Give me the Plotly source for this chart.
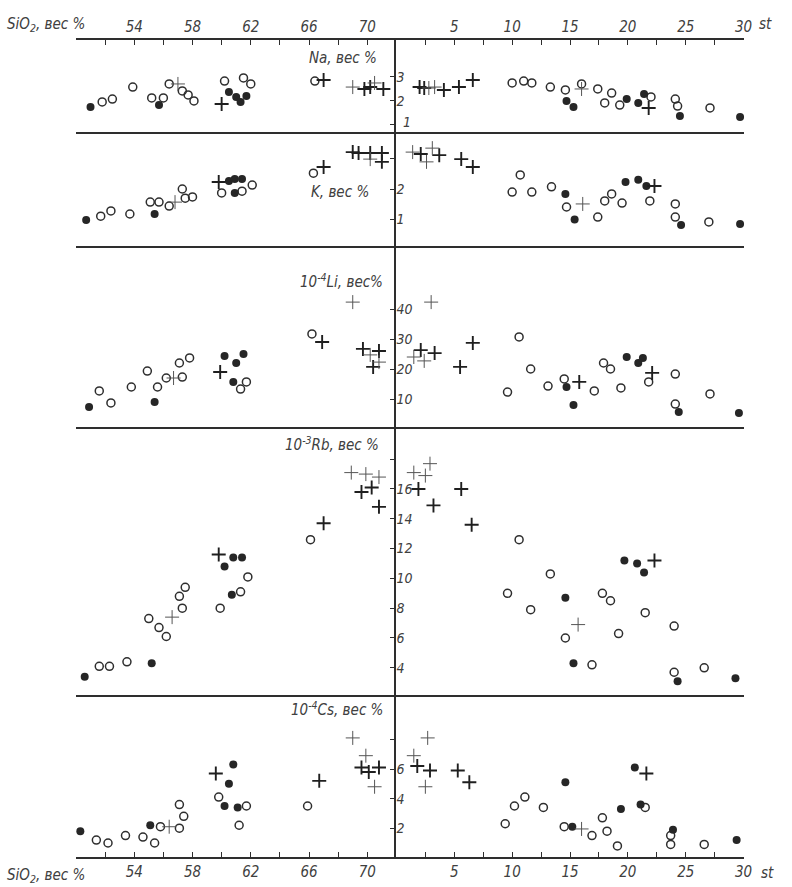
import plotly.graph_objects as go

# ---------------- data: (x, value) pairs ----------------
# left half: x = SiO2, wt%;  right half: x = st
NA_L_FILLED = [(49.7, 1.71), (51.0, 1.75), (55.7, 1.83), (60.5, 2.375), (61.0, 2.17), (61.3, 1.96), (61.7, 2.21)]
NA_L_OPEN = [(51.8, 1.96), (52.5, 2.08), (53.9, 2.58), (55.2, 2.125), (56.0, 2.125), (56.4, 2.71), (57.3, 2.42),
             (57.7, 2.25), (58.1, 2.0), (60.2, 2.83), (61.5, 2.96), (62.0, 2.71), (66.4, 2.83)]
NA_L_CROSS_BOLD = [(60.0, 1.875), (67.0, 2.875), (69.8, 2.5), (70.2, 2.58), (71.1, 2.5)]
NA_L_CROSS_THIN = [(57.0, 2.71), (69.0, 2.58), (70.5, 2.75)]

NA_R_FILLED = [(14.7, 2.0), (15.3, 1.75), (19.9, 2.08), (20.9, 1.92), (21.4, 2.29), (24.5, 1.375), (29.7, 1.33)]
NA_R_OPEN = [(10.0, 2.75), (11.0, 2.83), (11.7, 2.75), (13.3, 2.58), (14.6, 2.46), (16.0, 2.71), (17.4, 2.5),
             (18.6, 2.33), (18.0, 1.92), (19.3, 1.83), (22.0, 2.17), (24.1, 2.08), (24.3, 1.79), (27.1, 1.71)]
NA_R_CROSS_BOLD = [(2.0, 2.58), (2.4, 2.54), (4.1, 2.46), (5.4, 2.58), (6.6, 2.875), (21.8, 1.71)]
NA_R_CROSS_THIN = [(2.8, 2.54), (3.3, 2.58), (16.0, 2.5)]

K_L_FILLED = [(49.7, 1.0), (50.7, 0.98), (55.4, 1.18), (60.5, 2.26), (60.9, 2.33), (61.4, 2.33), (60.9, 1.87)]
K_L_OPEN = [(51.7, 1.11), (52.4, 1.28), (53.7, 1.18), (55.1, 1.57), (55.7, 1.57), (56.4, 1.44), (57.3, 2.0),
            (57.5, 1.7), (58.0, 1.74), (60.0, 1.87), (61.4, 1.93), (62.1, 2.13), (66.3, 2.52)]
K_L_CROSS_BOLD = [(59.8, 2.23), (67.0, 2.72), (69.0, 3.21), (69.4, 3.18), (70.2, 3.18), (71.0, 3.18), (71.0, 2.89)]
K_L_CROSS_THIN = [(56.8, 1.57), (70.2, 2.98)]

K_R_FILLED = [(14.6, 1.84), (15.4, 1.0), (19.8, 2.23), (20.9, 2.3), (21.6, 2.1), (24.6, 0.82), (29.7, 0.85)]
K_R_OPEN = [(10.0, 1.9), (10.7, 2.46), (11.7, 1.9), (13.4, 2.07), (14.7, 1.41), (17.4, 1.08), (18.0, 1.61),
            (18.6, 1.84), (19.5, 1.54), (21.9, 1.61), (24.1, 1.51), (24.1, 1.08), (27.0, 0.92)]
K_R_CROSS_BOLD = [(2.1, 3.15), (3.7, 3.11), (5.6, 2.98), (6.6, 2.72), (22.3, 2.1)]
K_R_CROSS_THIN = [(1.4, 3.21), (2.6, 2.89), (3.1, 3.34), (16.1, 1.51)]

LI_L_FILLED = [(49.5, 6.7), (50.9, 7.3), (55.4, 9.0), (60.2, 24.3), (61.0, 22.0), (61.5, 25.0), (60.8, 15.7)]
LI_L_OPEN = [(51.6, 12.7), (52.4, 8.7), (53.8, 14.0), (54.9, 19.3), (55.6, 14.0), (56.2, 17.0), (57.3, 17.3),
             (57.1, 22.0), (57.8, 23.7), (61.7, 15.7), (61.3, 13.3), (66.2, 31.7)]
LI_L_CROSS_BOLD = [(59.9, 19.0), (66.9, 29.0), (69.7, 26.7), (70.8, 26.0), (70.4, 20.7)]
LI_L_CROSS_THIN = [(56.7, 17.0), (69.0, 42.3), (70.2, 24.7), (70.8, 22.3)]

LI_R_FILLED = [(14.7, 14.0), (15.3, 8.0), (19.9, 24.0), (20.9, 22.0), (21.3, 23.7), (24.4, 5.7), (29.6, 5.3)]
LI_R_OPEN = [(9.6, 12.3), (10.6, 30.7), (11.6, 20.0), (13.1, 14.3), (14.5, 16.7), (17.1, 12.7), (17.9, 22.0),
             (18.5, 20.0), (19.4, 13.7), (21.8, 15.7), (24.1, 18.3), (24.1, 8.3), (27.1, 11.7)]
LI_R_CROSS_BOLD = [(2.1, 26.3), (3.3, 25.3), (5.5, 20.7), (6.6, 28.7), (15.8, 15.7), (22.1, 18.7)]
LI_R_CROSS_THIN = [(3.0, 42.3), (1.5, 24.0), (2.4, 22.7)]

RB_L_FILLED = [(60.2, 10.8), (60.8, 11.4), (61.4, 11.4), (60.7, 8.9), (55.2, 4.3), (49.4, 3.6), (50.6, 3.4)]
RB_L_OPEN = [(66.1, 12.6), (61.8, 10.1), (61.3, 9.1), (59.9, 8.0), (57.5, 9.4), (57.1, 8.8), (57.3, 8.0),
             (55.0, 7.3), (55.7, 6.7), (56.2, 6.1), (53.5, 4.4), (51.6, 4.1), (52.3, 4.1)]
RB_L_CROSS_BOLD = [(69.6, 15.8), (70.3, 16.1), (70.8, 14.8), (67.0, 13.7), (59.8, 11.6)]
RB_L_CROSS_THIN = [(68.9, 17.1), (69.9, 17.0), (70.8, 16.8), (56.6, 7.4)]

RB_R_FILLED = [(14.6, 8.7), (19.7, 11.2), (20.8, 11.0), (21.4, 10.4), (15.3, 4.3), (24.3, 3.1), (29.3, 3.3)]
RB_R_OPEN = [(10.6, 12.6), (13.3, 10.3), (9.6, 9.0), (11.6, 7.9), (17.8, 9.0), (18.5, 8.5), (21.5, 7.7),
             (14.6, 6.0), (19.2, 6.3), (24.0, 6.8), (16.9, 4.2), (24.0, 3.7), (26.6, 4.0)]
RB_R_CROSS_BOLD = [(1.9, 16.0), (3.2, 14.9), (5.6, 16.0), (6.5, 13.6), (22.3, 11.2)]
RB_R_CROSS_THIN = [(2.9, 17.7), (1.5, 17.1), (2.5, 16.9), (15.7, 6.9)]

CS_L_FILLED = [(60.8, 6.3), (60.5, 5.0), (60.2, 3.5), (61.1, 3.4), (55.1, 2.2), (50.3, 1.8), (49.2, 1.3)]
CS_L_OPEN = [(59.8, 4.1), (57.1, 3.6), (61.7, 3.5), (65.9, 3.5), (57.4, 2.8), (61.2, 2.2), (55.8, 2.1),
             (57.1, 2.0), (53.4, 1.5), (54.6, 1.4), (55.4, 1.0), (51.4, 1.2), (52.2, 1.0)]
CS_L_CROSS_BOLD = [(69.6, 6.1), (70.1, 5.8), (70.8, 6.1), (66.7, 5.2), (59.6, 5.7)]
CS_L_CROSS_THIN = [(69.0, 8.1), (69.9, 6.9), (70.5, 4.8), (56.4, 2.1)]

CS_R_FILLED = [(14.6, 5.1), (20.6, 6.1), (19.4, 3.3), (21.1, 3.6), (15.2, 2.1), (23.9, 1.9), (29.4, 1.2)]
CS_R_OPEN = [(11.1, 4.1), (10.2, 3.5), (12.7, 3.4), (21.5, 3.4), (9.4, 2.3), (14.5, 2.1), (16.9, 1.5),
             (17.8, 2.7), (18.2, 1.8), (19.1, 0.8), (23.7, 1.5), (23.7, 0.9), (26.6, 0.9)]
CS_R_CROSS_BOLD = [(1.8, 6.2), (2.9, 5.9), (5.3, 5.9), (6.3, 5.1), (21.6, 5.7)]
CS_R_CROSS_THIN = [(2.7, 8.1), (1.5, 6.9), (2.5, 4.8), (16.0, 1.95)]

# panel titles and y-axis ticks
PANEL_TITLES = ["Na, вес %", "K, вес %", "10<sup>-4</sup>Li, вес%", "10<sup>-3</sup>Rb, вес %",
                "10<sup>-4</sup>Cs, вес %"]
Y_TICKVALS = [[1, 2, 3], [1, 2, 3], [10, 20, 30, 40], [4, 6, 8, 10, 12, 14, 16, 18], [2, 4, 6, 8]]
Y_TICKTEXT = [[" ", "2", "3"], ["1", "2", " "], ["10", "20", "30", "40"],
              ["4", "6", "8", "10", "12", "14", "16", " "], ["2", "4", "6", " "]]
# the Na "1" label sits on the panel's bottom edge, so it is placed as a note beside its tick
NA_LOW_LABEL = "1"
SIO2_TICKVALS = [50, 52, 54, 56, 58, 60, 62, 64, 66, 68, 70, 72]
SIO2_TICKTEXT = [" ", " ", "54", " ", "58", " ", "62", " ", "66", " ", "70", " "]
ST_TICKVALS = [0, 2.5, 5, 7.5, 10, 12.5, 15, 17.5, 20, 22.5, 25, 27.5, 30]
ST_TICKTEXT = [" ", " ", "5", " ", "10", " ", "15", " ", "20", " ", "25", " ", "30"]

PANELS = [
    (NA_L_OPEN, NA_L_FILLED, NA_L_CROSS_BOLD, NA_L_CROSS_THIN, NA_R_OPEN, NA_R_FILLED, NA_R_CROSS_BOLD, NA_R_CROSS_THIN),
    (K_L_OPEN, K_L_FILLED, K_L_CROSS_BOLD, K_L_CROSS_THIN, K_R_OPEN, K_R_FILLED, K_R_CROSS_BOLD, K_R_CROSS_THIN),
    (LI_L_OPEN, LI_L_FILLED, LI_L_CROSS_BOLD, LI_L_CROSS_THIN, LI_R_OPEN, LI_R_FILLED, LI_R_CROSS_BOLD, LI_R_CROSS_THIN),
    (RB_L_OPEN, RB_L_FILLED, RB_L_CROSS_BOLD, RB_L_CROSS_THIN, RB_R_OPEN, RB_R_FILLED, RB_R_CROSS_BOLD, RB_R_CROSS_THIN),
    (CS_L_OPEN, CS_L_FILLED, CS_L_CROSS_BOLD, CS_L_CROSS_THIN, CS_R_OPEN, CS_R_FILLED, CS_R_CROSS_BOLD, CS_R_CROSS_THIN),
]

# ---------------- layout geometry ----------------
W, H = 792, 887
ROW_PX = [(40, 132), (132, 246), (246, 427), (427, 695), (695, 857)]
Y_RANGES = [[0.708, 4.54], [0.131, 3.869], [0.667, 61.0], [2.174, 20.16], [0.054, 11.0]]
LEFT_DOM = [75 / W, 400 / W]
RIGHT_DOM = [400 / W, 752 / W]

INK = "#2e2e2e"
TXT = "#404040"
FONT = "Liberation Sans Narrow, DejaVu Sans Condensed, Arial Narrow, sans-serif"

STYLES = [
    dict(symbol="circle-open", size=8, color=INK, line=dict(width=1.5, color=INK)),
    dict(symbol="circle", size=8, color="#262626", line=dict(width=0)),
    dict(symbol="cross-thin", size=10, color="#1f1f1f", line=dict(width=1.9, color="#1f1f1f")),
    dict(symbol="cross-thin", size=10, color="#555555", line=dict(width=1.0, color="#555555")),
]

fig = go.Figure()
layout = {}
annotations = []

for i, panel in enumerate(PANELS):
    nl, nr = 2 * i + 1, 2 * i + 2
    xl, yl = f"x{nl}", f"y{nl}"
    xr, yr = f"x{nr}", f"y{nr}"
    for k in range(4):
        for pts, xa, ya in ((panel[k], xl, yl), (panel[4 + k], xr, yr)):
            fig.add_trace(go.Scatter(
                x=[p[0] for p in pts], y=[p[1] for p in pts], mode="markers",
                marker=STYLES[k], xaxis=xa, yaxis=ya, cliponaxis=False,
                showlegend=False, hoverinfo="x+y"))

    top, bot = ROW_PX[i]
    ydom = [1 - bot / H, 1 - top / H]

    def xaxis(dom, rng, tv, tt, anchor):
        ax = dict(domain=dom, range=rng, anchor=anchor, showgrid=False, zeroline=False,
                  showline=True, linecolor=INK, linewidth=1.6, fixedrange=True,
                  tickfont=dict(family=FONT, size=15, color=TXT, style="italic"))
        if i == 0:
            ax.update(side="top", mirror=True, ticks="inside", ticklen=5, tickwidth=1.3,
                      tickcolor=INK, tickvals=tv, ticktext=tt)
        elif i == len(PANELS) - 1:
            ax.update(side="bottom", ticks="inside", ticklen=5, tickwidth=1.3,
                      tickcolor=INK, tickvals=tv, ticktext=tt)
        else:
            ax.update(side="bottom", ticks="", showticklabels=False)
        return ax

    key_l = "xaxis" if nl == 1 else f"xaxis{nl}"
    layout[key_l] = xaxis(LEFT_DOM, [50, 72], SIO2_TICKVALS, SIO2_TICKTEXT, yl)
    layout[f"xaxis{nr}"] = xaxis(RIGHT_DOM, [0, 30], ST_TICKVALS, ST_TICKTEXT, yr)

    key_yl = "yaxis" if nl == 1 else f"yaxis{nl}"
    layout[key_yl] = dict(domain=ydom, range=Y_RANGES[i], anchor=xl, visible=False, fixedrange=True)
    layout[f"yaxis{nr}"] = dict(
        domain=ydom, range=Y_RANGES[i], anchor=xr, side="left", showgrid=False, zeroline=False,
        showline=True, linecolor=INK, linewidth=1.6, ticks="outside", ticklen=5, tickwidth=1.3,
        tickcolor=INK, ticklabelposition="inside", tickvals=Y_TICKVALS[i], ticktext=Y_TICKTEXT[i],
        tickfont=dict(family=FONT, size=14, color=TXT, style="italic"), fixedrange=True)

# Na "1" label, anchored to the Na axis value 1 (just above it, as in the original)
annotations.append(dict(text=NA_LOW_LABEL, xref="x2", yref="y2", x=0, y=1, xshift=5, yshift=3,
                        xanchor="left", yanchor="middle", showarrow=False,
                        font=dict(family=FONT, size=14, color=TXT, style="italic")))

# panel titles (right-aligned against the centre line)
TITLE_PX = [(382, 58), (374, 192), (388, 281), (384, 444), (388, 709)]
for txt, (px, py) in zip(PANEL_TITLES, TITLE_PX):
    annotations.append(dict(text=txt, xref="paper", yref="paper", x=px / W, y=1 - py / H,
                            xanchor="right", yanchor="middle", showarrow=False,
                            font=dict(family=FONT, size=15, color=TXT, style="italic")))

AXIS_LABELS = [("SiO<sub>2</sub>, вес %", 3, 24, "left"), ("SiO<sub>2</sub>, вес %", 3, 875, "left"),
               ("st", 766, 24, "left"), ("st", 768, 873, "left")]
for txt, px, py, xa in AXIS_LABELS:
    annotations.append(dict(text=txt, xref="paper", yref="paper", x=px / W, y=1 - py / H,
                            xanchor=xa, yanchor="middle", showarrow=False,
                            font=dict(family=FONT, size=15, color=TXT, style="italic")))

fig.update_layout(width=W, height=H, margin=dict(l=0, r=0, t=0, b=0, pad=0),
                  paper_bgcolor="white", plot_bgcolor="white", showlegend=False,
                  annotations=annotations, **layout)

fig.write_html("out.html", config={"displayModeBar": False},
               post_script="document.body.style.margin='0';document.body.style.overflow='hidden';")
